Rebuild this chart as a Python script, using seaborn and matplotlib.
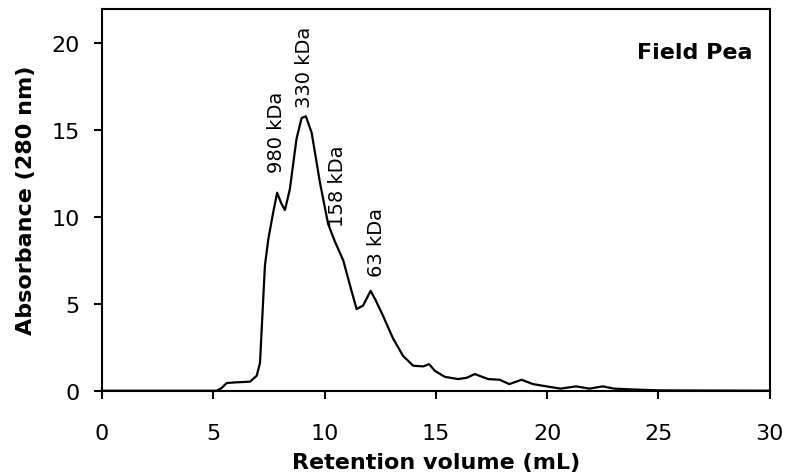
import seaborn as sns
import matplotlib.pyplot as plt
import pandas as pd

# chromatogram trace
volume = [0.0, 5.15, 5.37, 5.6, 6.0, 6.65, 6.95, 7.1, 7.17, 7.32, 7.47, 7.69, 7.87,
          8.05, 8.22, 8.44, 8.74, 8.97, 9.16, 9.42, 9.79, 10.16, 10.46, 10.84,
          11.2, 11.44, 11.73, 12.07, 12.3, 12.63, 13.08, 13.53, 13.98, 14.43,
          14.7, 14.95, 15.4, 16.0, 16.4, 16.75, 17.35, 17.87, 18.3, 18.85,
          19.37, 19.97, 20.6, 21.3, 21.9, 22.5, 23.0, 23.7, 25.0, 30.0]
absorbance = [0.0, 0.0, 0.15, 0.44, 0.48, 0.52, 0.86, 1.6, 3.4, 7.2, 8.7, 10.25, 11.4,
              10.8, 10.4, 11.6, 14.5, 15.7, 15.8, 14.85, 12.0, 9.6, 8.6, 7.5,
              5.8, 4.7, 4.9, 5.75, 5.2, 4.3, 3.0, 2.0, 1.44, 1.4,
              1.53, 1.15, 0.8, 0.67, 0.75, 0.96, 0.67, 0.63, 0.38, 0.63,
              0.38, 0.25, 0.12, 0.25, 0.12, 0.25, 0.12, 0.08, 0.02, 0.0]

marker_labels = ['980 kDa', '330 kDa', '158 kDa', '63 kDa']
marker_x = [7.86, 9.1, 10.6, 12.33]
marker_y = [12.6, 16.35, 9.47, 6.6]

df = pd.DataFrame({'volume': volume, 'absorbance': absorbance})

sns.set_style('ticks')
plt.rcParams['font.family'] = ['DejaVu Sans']
plt.rcParams['text.color'] = 'black'
plt.rcParams['axes.labelcolor'] = 'black'
plt.rcParams['xtick.color'] = 'black'
plt.rcParams['ytick.color'] = 'black'

fig = plt.figure(figsize=(7.87, 4.77), dpi=100)
ax = fig.add_axes([0.1296, 0.1788, 0.8484, 0.8012])

sns.lineplot(data=df, x='volume', y='absorbance', color='black', linewidth=1.6, ax=ax)

for lab, lx, ly in zip(marker_labels, marker_x, marker_y):
    ax.text(lx, ly, lab, rotation=90, ha='center', va='bottom', fontsize=14)

ax.text(0.975, 0.887, 'Field Pea', transform=ax.transAxes, ha='right', va='center',
        fontsize=16, fontweight='bold')

ax.set_xlim(0, 30)
ax.set_ylim(0, 22)
ax.set_xticks([0, 5, 10, 15, 20, 25, 30])
ax.set_yticks([0, 5, 10, 15, 20])
ax.set_xlabel('Retention volume (mL)', fontsize=16, fontweight='bold', labelpad=7)
ax.set_ylabel('Absorbance (280 nm)', fontsize=16, fontweight='bold', labelpad=11)
ax.tick_params(axis='both', labelsize=16, length=6, width=1.5)
ax.tick_params(axis='x', pad=17)
ax.tick_params(axis='y', pad=10)

for side in ['top', 'right', 'left', 'bottom']:
    ax.spines[side].set_visible(True)
    ax.spines[side].set_color('black')
    ax.spines[side].set_linewidth(1.5)

plt.savefig('out.png', dpi=100)
